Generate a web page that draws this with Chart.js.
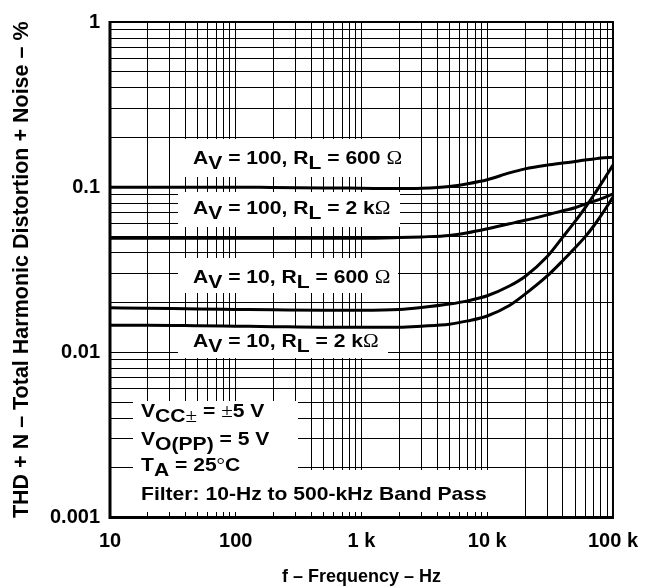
<!DOCTYPE html>
<html>
<head>
<meta charset="utf-8">
<script src="https://cdn.jsdelivr.net/npm/chart.js@4.4.1/dist/chart.umd.min.js"></script>
<style>
html,body{margin:0;padding:0;background:#fff;}
#wrap{width:650px;height:586px;position:relative;}
</style>
</head>
<body>
<div id="wrap"><canvas id="c" width="650" height="586"></canvas></div>
<script>
// ---- data ----
const freqHz = [10,20,50,100,200,500,1000,2000,3000,5000,7000,10000,15000,20000,30000,40000,50000,60000,70000,80000,100000];
const thdAv100RL600 = [0.100,0.100,0.100,0.100,0.0995,0.099,0.0985,0.098,0.0985,0.101,0.105,0.111,0.122,0.129,0.136,0.140,0.143,0.146,0.148,0.150,0.152];
const thdAv100RL2k  = [0.049,0.049,0.049,0.049,0.049,0.049,0.049,0.0495,0.050,0.051,0.053,0.056,0.060,0.063,0.068,0.072,0.075,0.079,0.082,0.085,0.091];
const thdAv10RL600  = [0.0186,0.0185,0.0183,0.0182,0.0181,0.018,0.018,0.0182,0.0187,0.0196,0.0205,0.022,0.0252,0.0288,0.038,0.050,0.062,0.075,0.089,0.104,0.136];
const thdAv10RL2k   = [0.0146,0.0146,0.0145,0.0144,0.0143,0.0142,0.0142,0.0142,0.0144,0.0148,0.0155,0.0166,0.0192,0.0225,0.029,0.036,0.043,0.050,0.058,0.067,0.087];

const xTickValues = [10,100,1000,10000,100000];
const xTickLabels = ['10','100','1 k','10 k','100 k'];
const yTickValues = [0.001,0.01,0.1,1];
const yTickLabels = ['0.001','0.01','0.1','1'];

// annotation texts: [text, style]  style: '' bold sans, 's' bold subscript, 'g' serif symbol, 'gs' serif subscript
const curveLabels = [
  [['A'],['V','s'],[' = 100, R'],['L','s'],[' = 600 '],['\u03A9','g']],
  [['A'],['V','s'],[' = 100, R'],['L','s'],[' = 2 k'],['\u03A9','g']],
  [['A'],['V','s'],[' = 10, R'],['L','s'],[' = 600 '],['\u03A9','g']],
  [['A'],['V','s'],[' = 10, R'],['L','s'],[' = 2 k'],['\u03A9','g']]
];
const conditionLines = [
  [['V'],['CC','s'],['\u00B1','gs'],[' = '],['\u00B1','g'],['5 V']],
  [['V'],['O(PP)','s'],[' = 5 V']],
  [['T'],['A','s'],[' = 25'],['\u00B0','g'],['C']],
  [['Filter: 10-Hz to 500-kHz Band Pass']]
];

// ---- helpers ----
function pts(ys){ return freqHz.map((f,i)=>({x:f,y:ys[i]})); }
function logGridTicks(min,max){
  const t=[];
  for(let e=Math.round(Math.log10(min)); e<=Math.round(Math.log10(max)); e++){
    for(let m=1;m<=9;m++){
      const v=+(m*Math.pow(10,e)).toPrecision(6);
      if(v>=min*0.999 && v<=max*1.001) t.push({value:v});
    }
  }
  return t;
}
function labelFor(v, vals, labs){
  const i = vals.findIndex(t=>Math.abs(t-v)<=t*1e-6);
  return i>=0 ? labs[i] : '';
}

const SANS = '"Liberation Sans", Arial, Helvetica, sans-serif';
const SERIF = '"Liberation Serif", "Times New Roman", serif';
const FS = 19, SX = 1.11, SUB = 5;

function drawRich(ctx, x, y, parts){
  ctx.save();
  ctx.translate(x,y);
  ctx.scale(SX,1);
  ctx.fillStyle='#000';
  ctx.textBaseline='alphabetic';
  ctx.textAlign='left';
  let cx=0;
  for(const [t,st] of parts){
    const s = st||'';
    if(s==='g' || s==='gs') ctx.font = FS+'px '+SERIF;
    else ctx.font = 'bold '+FS+'px '+SANS;
    const dy = (s==='s'||s==='gs') ? SUB : 0;
    ctx.fillText(t, cx, dy);
    cx += ctx.measureText(t).width;
  }
  ctx.restore();
}

const annotPlugin = {
  id:'annot',
  beforeDatasetsDraw(chart){
    const ctx=chart.ctx;
    ctx.save();
    ctx.fillStyle='#fff';
    // white label panels covering the grid
    ctx.fillRect(178,139,242,38);
    ctx.fillRect(178,192,222,35);
    ctx.fillRect(178,258,220,35);
    ctx.fillRect(178,327,210,31);
    ctx.fillRect(133,401,165,69);
    ctx.fillRect(133,470,357,42);
    ctx.restore();
  },
  afterDatasetsDraw(chart){
    const ctx=chart.ctx;
    const lx=193, base=[164,214,283,347];
    curveLabels.forEach((p,i)=>drawRich(ctx,lx,base[i],p));
    const cbase=[417,445,471,500];
    conditionLines.forEach((p,i)=>drawRich(ctx,141,cbase[i],p));
    const a=chart.chartArea;
    ctx.save();
    ctx.strokeStyle='#000';
    ctx.lineWidth=2;
    ctx.strokeRect(a.left,a.top,a.right-a.left,a.bottom-a.top);
    ctx.lineWidth=3;
    ctx.beginPath();
    ctx.moveTo(a.left,a.top-1);
    ctx.lineTo(a.left,a.bottom);
    ctx.lineTo(a.right+1,a.bottom);
    ctx.stroke();
    ctx.restore();
  }
};

const lineStyle = {borderColor:'#000', borderWidth:3, pointRadius:0, fill:false, cubicInterpolationMode:'monotone'};

new Chart(document.getElementById('c'), {
  type:'line',
  data:{
    datasets:[
      Object.assign({label:'AV = 100, RL = 600 Ω', data:pts(thdAv100RL600)}, lineStyle),
      Object.assign({label:'AV = 100, RL = 2 kΩ', data:pts(thdAv100RL2k)}, lineStyle),
      Object.assign({label:'AV = 10, RL = 600 Ω', data:pts(thdAv10RL600)}, lineStyle),
      Object.assign({label:'AV = 10, RL = 2 kΩ', data:pts(thdAv10RL2k)}, lineStyle)
    ]
  },
  options:{
    responsive:false,
    animation:false,
    devicePixelRatio:1,
    layout:{padding:{left:0,top:15,right:35,bottom:0}},
    plugins:{legend:{display:false}, tooltip:{enabled:false}},
    scales:{
      x:{
        type:'logarithmic', min:10, max:100000,
        afterBuildTicks:(s)=>{ s.ticks = logGridTicks(10,100000); },
        afterFit:(s)=>{ s.height = 68.5; },
        grid:{color:'#000', lineWidth:1, drawTicks:false},
        border:{display:false},
        ticks:{autoSkip:false, maxRotation:0, minRotation:0, padding:12, color:'#000',
          font:{family:SANS, weight:'bold', size:20},
          callback:(v)=>labelFor(v,xTickValues,xTickLabels)},
        title:{display:true, text:'f \u2013 Frequency \u2013 Hz', color:'#000', padding:{top:0,bottom:0},
          font:{family:SANS, weight:'bold', size:18, lineHeight:1}}
      },
      y:{
        type:'logarithmic', min:0.001, max:1,
        afterBuildTicks:(s)=>{ s.ticks = logGridTicks(0.001,1); },
        afterFit:(s)=>{ s.width = 110; },
        grid:{color:'#000', lineWidth:1, drawTicks:false},
        border:{display:false},
        ticks:{autoSkip:false, padding:10, color:'#000',
          font:{family:SANS, weight:'bold', size:20},
          callback:(v)=>labelFor(v,yTickValues,yTickLabels)},
        title:{display:true, text:'THD + N \u2013 Total Harmonic Distortion + Noise \u2013 %', color:'#000', padding:{top:11,bottom:0},
          font:{family:SANS, weight:'bold', size:21.5, lineHeight:1}}
      }
    }
  },
  plugins:[annotPlugin]
});
</script>
</body>
</html>
